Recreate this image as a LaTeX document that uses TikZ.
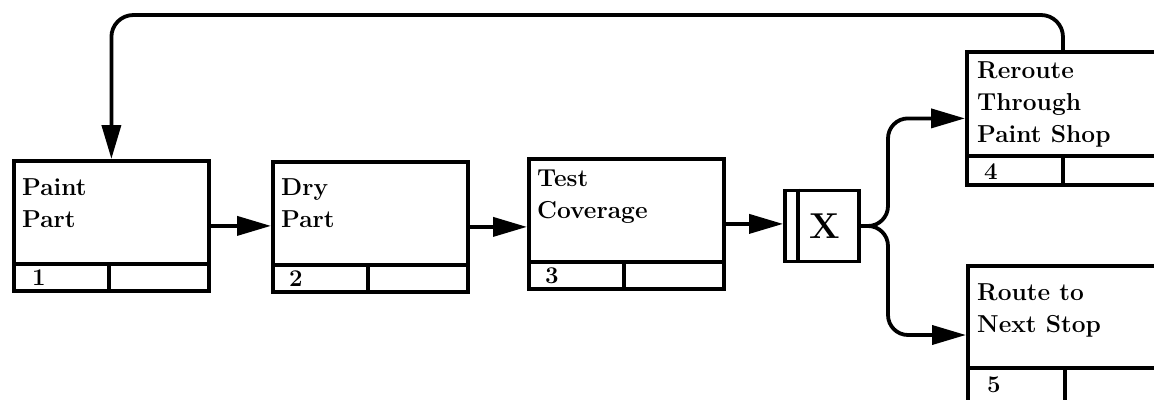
\documentclass[tikz,border=0pt]{standalone}
\usepackage{fontspec}
\usetikzlibrary{arrows.meta,calc}
\begin{document}
\begin{tikzpicture}[x=1pt,y=-1pt,
  procbox/.style={draw,line width=3.8pt,minimum width=195pt,minimum height=130pt,inner sep=0pt,anchor=north west},
  lbl/.style={font=\fontsize{24.5}{32}\selectfont\bfseries,align=left,inner sep=0pt,anchor=north west},
  num/.style={font=\fontsize{24}{24}\selectfont\bfseries,inner sep=0pt,anchor=base west},
  ln/.style={line width=3.8pt},
  arr/.style={line width=3.8pt,-{Triangle[length=34pt,width=19pt]}}]
\useasboundingbox (0,0) rectangle (1154,399);
\clip (0,0) rectangle (1154,399);
% boxes
\node[procbox] (b1) at (12,159) {};
\node[procbox] (b2) at (271,160) {};
\node[procbox] (b3) at (527,157) {};
\node[procbox,minimum width=210pt,minimum height=133pt] (b4) at (965,50) {};
\node[procbox,minimum width=210pt,minimum height=140pt] (b5) at (966,264) {};
% strips
\foreach \b in {b1,b2,b3}{
  \draw[ln] ($(\b.south west)+(0,-29)$) -- ($(\b.south east)+(0,-29)$);
  \draw[ln] ($(\b.south west)+(97,0)$) -- ($(\b.south west)+(97,-29)$);
}
\draw[ln] ($(b4.south west)+(0,-31)$) -- ($(b4.south east)+(0,-31)$);
\draw[ln] ($(b4.south west)+(98,0)$) -- ($(b4.south west)+(98,-31)$);
\draw[ln] ($(b5.north west)+(0,104)$) -- ($(b5.north east)+(0,104)$);
\draw[ln] ($(b5.north west)+(99,104)$) -- ($(b5.south west)+(99,0)$);
% labels
\node[lbl] (t1) at ($(b1.north west)+(10,19)$) {Paint\\Part};
\node[lbl] (t2) at ($(b2.north west)+(10,18)$) {Dry\\Part};
\node[lbl] (t3) at ($(b3.north west)+(10,13)$) {Test\\Coverage};
\node[lbl] (t4) at ($(b4.north west)+(12,11)$) {Reroute\\Through\\Paint Shop};
\node[lbl] (t5) at ($(b5.north west)+(11,19)$) {Route to\\Next Stop};
% numbers
\node[num] (n1) at ($(b1.south west)+(20,-7)$) {1};
\node[num] (n2) at ($(b2.south west)+(18,-7)$) {2};
\node[num] (n3) at ($(b3.south west)+(18,-7)$) {3};
\node[num] (n4) at ($(b4.south west)+(19,-7)$) {4};
\node[num] (n5) at ($(b5.north west)+(21,128)$) {5};
% junction
\node[draw,line width=3.8pt,minimum width=74pt,minimum height=71pt,inner sep=0pt] (jx) at (822,226) {};
\draw[ln] ($(jx.north west)+(15,0)$) -- ($(jx.south west)+(15,0)$);
\node[font=\fontsize{36}{36}\selectfont\bfseries,inner sep=0pt] (xl) at ($(jx.center)+(3,0)$) {X};
% connectors
\draw[arr] (b1.east) -- (b1.east -| b2.west);
\draw[arr] (b2.east) -- (b2.east -| b3.west);
\draw[arr] (b3.east) -- (b3.east -| jx.west);
\coordinate (bx) at (888,0);
\coordinate (topy) at (0,15);
\coordinate (e5) at ($(b5.north west)+(0,71)$);
\draw[arr,rounded corners=20pt] (jx.east) -| (bx |- b4.west) -- (b4.west);
\draw[arr,rounded corners=20pt] (jx.east) -| (bx |- e5) -- (e5);
\draw[arr,rounded corners=22pt] ($(b4.north west)+(98,0)$) |- (topy -| b1.north) -- (b1.north);
\end{tikzpicture}
\end{document}
